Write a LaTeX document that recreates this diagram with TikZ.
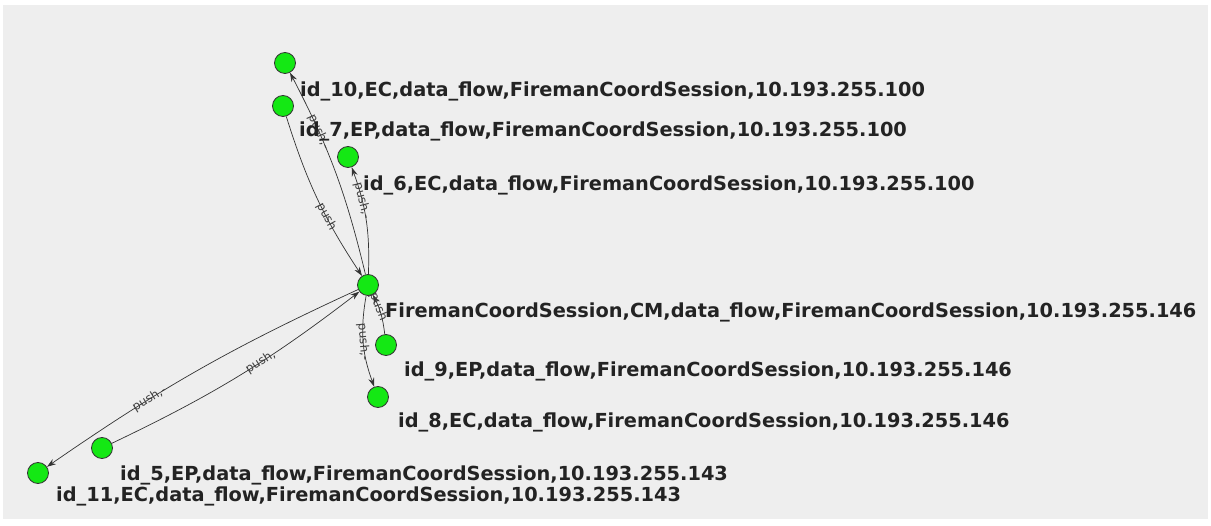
\documentclass[tikz,border=0pt]{standalone}
\usepackage{fontspec}
\setmainfont{DejaVu Sans}
\usetikzlibrary{arrows.meta}
\definecolor{bg}{RGB}{238,238,238}
\definecolor{nodegreen}{RGB}{20,232,20}
\definecolor{txt}{RGB}{35,35,35}
\begin{document}
\begin{tikzpicture}[x=1pt,y=-1pt,
  vtx/.style={circle,draw=black!80,fill=nodegreen,minimum size=21pt,inner sep=0pt,line width=0.8pt},
  lbl/.style={anchor=base west,inner sep=0pt,font=\fontsize{19.35}{22}\selectfont\bfseries,text=txt},
  edge/.style={draw=black!80,line width=0.7pt,-{Stealth[length=9pt,width=6pt]}},
  elbl/.style={sloped,font=\fontsize{12}{13}\selectfont,text=black!75,inner sep=0pt}]
\fill[white] (0,0) rectangle (1211,526);
\fill[bg] (3,5) rectangle (1208,519);
% vertices
\node[vtx] (n10) at (285,63) {};
\node[vtx] (n7) at (283,106) {};
\node[vtx] (n6) at (348,157) {};
\node[vtx] (c) at (368,285) {};
\node[vtx] (n9) at (386,345) {};
\node[vtx] (n8) at (378,397) {};
\node[vtx] (n5) at (102,448) {};
\node[vtx] (n11) at (38,473) {};
% edges
\draw[edge] (c) to[bend right=7] node[elbl,pos=0.71] {push,-} (n10);
\draw[edge] (n7) to[bend right=8] node[elbl,pos=0.62] {push} (c);
\draw[edge] (c) to[bend right=11] node[elbl,pos=0.69] {push,-} (n6);
\draw[edge] (c) to[bend right=15] node[elbl,pos=0.5] {push,-} (n8);
\draw[edge] (n9) to[bend right=10] node[elbl,pos=0.7] {push} (c);
\draw[edge] (c) to[bend right=5] node[elbl,pos=0.67] {push,-} (n11);
\draw[edge] (n5) to[bend right=6] node[elbl,pos=0.59] {push,} (c);
% labels
\node[lbl] (t10) at (300,97) {id\_10,EC,data\_flow,FiremanCoordSession,10.193.255.100};
\node[lbl] (t7) at (299,137) {id\_7,EP,data\_flow,FiremanCoordSession,10.193.255.100};
\node[lbl] (t6) at (363,191) {id\_6,EC,data\_flow,FiremanCoordSession,10.193.255.100};
\node[lbl] (tc) at (385,318) {FiremanCoordSession,CM,data\_flow,FiremanCoordSession,10.193.255.146};
\node[lbl] (t9) at (404,377) {id\_9,EP,data\_flow,FiremanCoordSession,10.193.255.146};
\node[lbl] (t8) at (398,428) {id\_8,EC,data\_flow,FiremanCoordSession,10.193.255.146};
\node[lbl] (t5) at (120,481) {id\_5,EP,data\_flow,FiremanCoordSession,10.193.255.143};
\node[lbl] (t11) at (56,502) {id\_11,EC,data\_flow,FiremanCoordSession,10.193.255.143};
\end{tikzpicture}
\end{document}
